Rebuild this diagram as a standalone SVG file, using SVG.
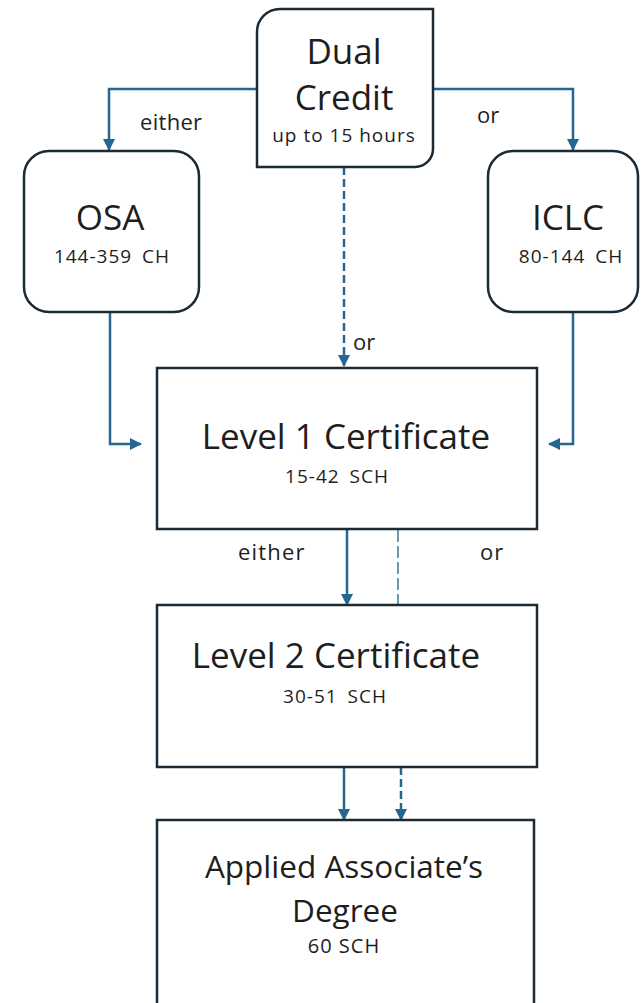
<svg xmlns="http://www.w3.org/2000/svg" width="641" height="1003" viewBox="0 0 641 1003">
<style>
.box{fill:#fff;stroke:#1b2a33;stroke-width:2.5}
.t{font-family:"Open Sans","Liberation Sans",sans-serif;fill:#1e1e1e;text-anchor:middle}
.big{font-size:35px}
.aad{font-size:31.5px}
.sm{font-size:19px;letter-spacing:1px}
.ws{word-spacing:4px}
.lbl{font-family:"Open Sans","Liberation Sans",sans-serif;fill:#1e1e1e;font-size:22px}
.c{fill:none;stroke:#266791;stroke-width:2.5}
.d{stroke-dasharray:8 4}
.thin{stroke:#3a7b8c;stroke-width:1.5;stroke-dasharray:12 4}
</style>
<defs>
<marker id="ah" markerUnits="userSpaceOnUse" markerWidth="12" markerHeight="12" viewBox="0 0 12 12" refX="11" refY="6" orient="auto">
<path d="M0,0 L12,6 L0,12 z" fill="#266791"/>
</marker>
</defs>
<rect width="641" height="1003" fill="#fff"/>
<g id="connectors">
<path class="c" d="M257,89 H109 V150" marker-end="url(#ah)"/>
<path class="c" d="M433,89 H573 V150" marker-end="url(#ah)"/>
<path class="c d" d="M344,167 V366" marker-end="url(#ah)"/>
<path class="c" d="M110,312 V444 H141" marker-end="url(#ah)"/>
<path class="c" d="M573,312 V444 H549" marker-end="url(#ah)"/>
<path class="c" d="M347,529 V605" marker-end="url(#ah)"/>
<path class="c thin" d="M398,530 V605"/>
<path class="c" d="M344,767 V820" marker-end="url(#ah)"/>
<path class="c d" d="M401,767 V820" marker-end="url(#ah)"/>
<text class="lbl" x="140" y="130" style="letter-spacing:0.3px">either</text>
<text class="lbl" x="477" y="123">or</text>
<text class="lbl" x="353" y="350">or</text>
<text class="lbl" x="238" y="560" style="letter-spacing:1.2px">either</text>
<text class="lbl" x="480" y="560" style="letter-spacing:1px">or</text>
</g>
<g id="dual">
<path class="box" d="M280,9 H433 V149 A18,18 0 0 1 415,167 H257 V32 A23,23 0 0 1 280,9 Z"/>
<text class="t big" x="344" y="64">Dual</text>
<text class="t big" x="344" y="110">Credit</text>
<text class="t sm" x="344" y="142">up to 15 hours</text>
</g>
<g id="osa">
<rect class="box" x="24" y="151" width="175" height="161" rx="25"/>
<text class="t big" x="110" y="230">OSA</text>
<text class="t sm ws" x="112" y="263">144-359 CH</text>
</g>
<g id="iclc">
<rect class="box" x="488" y="151" width="150" height="161" rx="25"/>
<text class="t big" x="568" y="230">ICLC</text>
<text class="t sm ws" x="571" y="263">80-144 CH</text>
</g>
<g id="level1">
<rect class="box" x="157" y="368" width="380" height="161"/>
<text class="t big" x="346" y="449">Level 1 Certificate</text>
<text class="t sm ws" x="337" y="483">15-42 SCH</text>
</g>
<g id="level2">
<rect class="box" x="157" y="605" width="380" height="162"/>
<text class="t big" x="336" y="668">Level 2 Certificate</text>
<text class="t sm ws" x="335" y="703">30-51 SCH</text>
</g>
<g id="aad">
<rect class="box" x="157" y="820" width="377" height="200"/>
<text class="t aad" x="344" y="878">Applied Associate’s</text>
<text class="t aad" x="345" y="922">Degree</text>
<text class="t sm" x="344" y="953" style="font-size:20px">60 SCH</text>
</g>
</svg>
